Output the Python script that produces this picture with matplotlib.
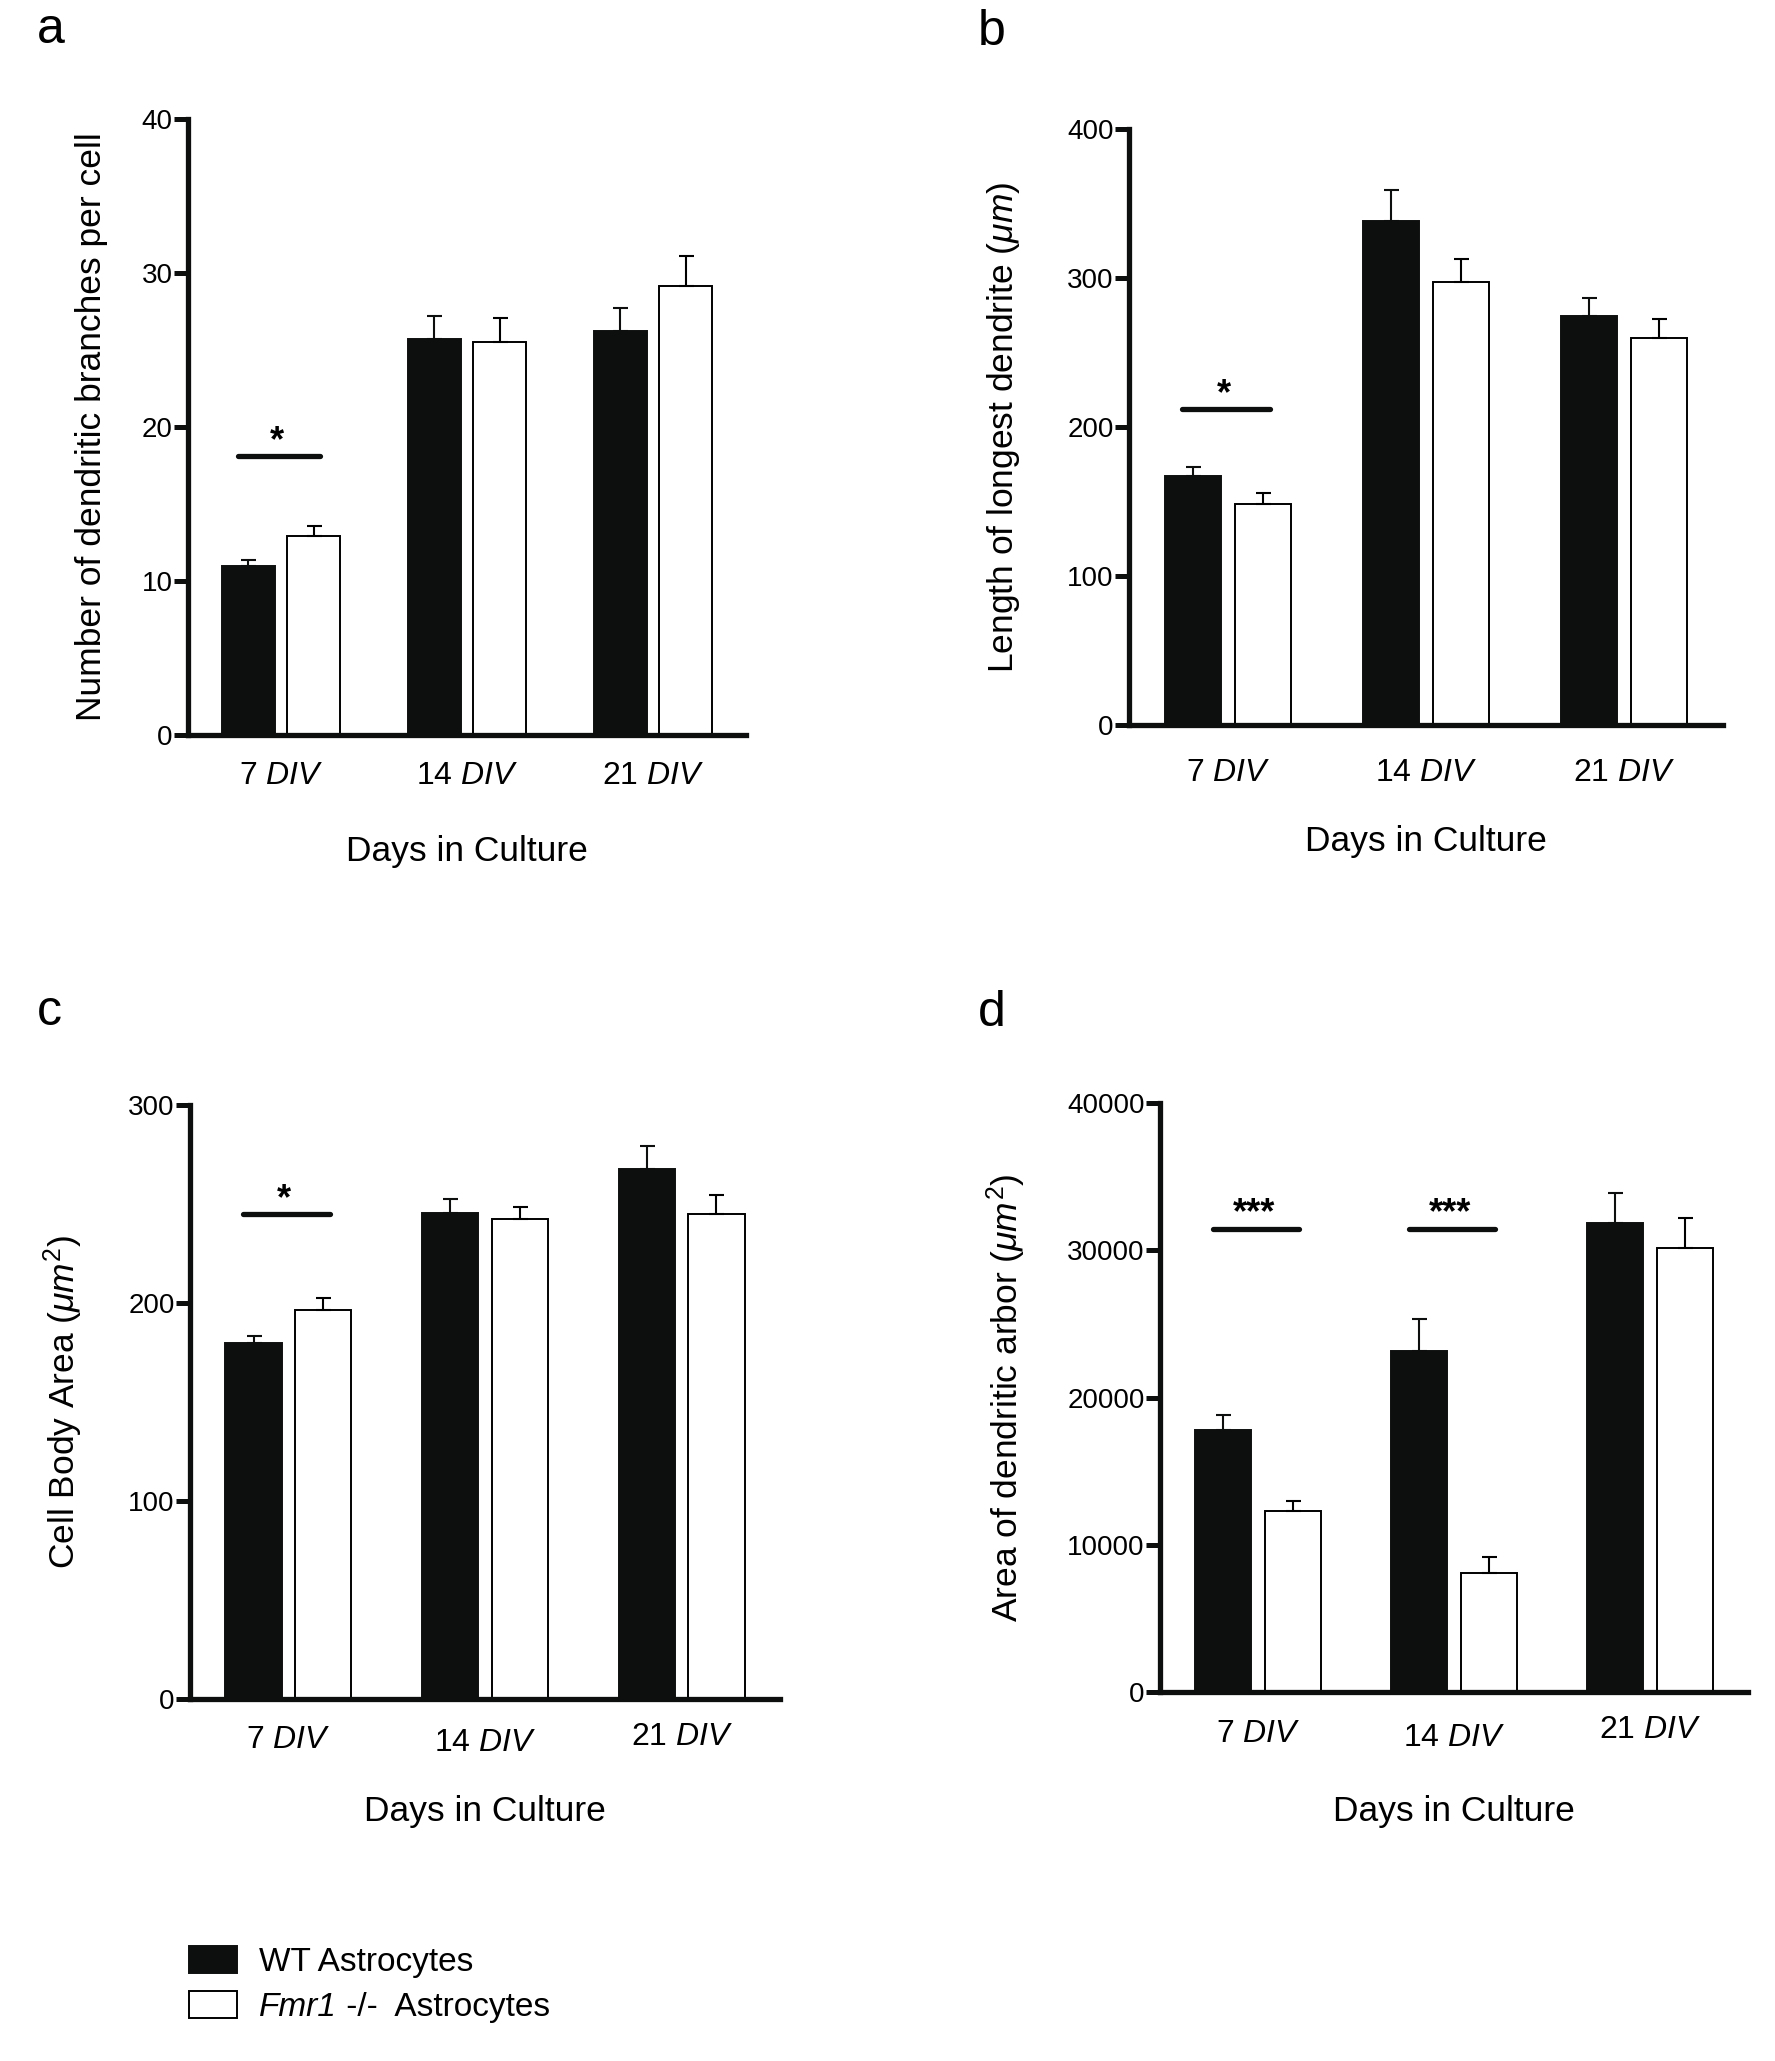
import numpy as np
import matplotlib.pyplot as plt
from matplotlib import transforms
from matplotlib.patches import Patch
from matplotlib.text import Annotation

plt.rcParams['font.family'] = ['Liberation Sans', 'DejaVu Sans']
plt.rcParams['mathtext.fontset'] = 'custom'
plt.rcParams['mathtext.rm'] = 'Liberation Sans'
plt.rcParams['mathtext.it'] = 'Liberation Sans:italic'
plt.rcParams['mathtext.bf'] = 'Liberation Sans:bold'

# data (mean, upper SEM)
days = ['7', '14', '21']
tick_labels = [r'7 $\mathit{DIV}$', r'14 $\mathit{DIV}$', r'21 $\mathit{DIV}$']

a_wt = [10.97, 25.7, 26.26]
a_wt_err = [0.4, 1.5, 1.45]
a_ko = [12.92, 25.55, 29.13]
a_ko_err = [0.65, 1.55, 2.0]

b_wt = [167, 338, 274.6]
b_wt_err = [6, 21, 12]
b_ko = [148.5, 297, 260]
b_ko_err = [7, 16, 12.7]

c_wt = [179.8, 245.7, 267.8]
c_wt_err = [3.7, 6.7, 11.3]
c_ko = [196.6, 242.2, 244.8]
c_ko_err = [6.1, 6.4, 9.6]

d_wt = [17770, 23170, 31860]
d_wt_err = [1017, 2153, 2034]
d_ko = [12290, 8063, 30176]
d_ko_err = [665, 1135, 1996]

a_sig = [(0, 18.1, '*')]
b_sig = [(0, 211.8, '*')]
c_sig = [(0, 244.8, '*')]
d_sig = [(0, 31468, '***'), (1, 31468, '***')]

BLACK = '#0d0f0e'
W, H = 1775, 2061
PT = 100 / 72.0  # px per point

fig = plt.figure(figsize=(W / 100, H / 100), dpi=100)


def axes_px(x0, y0, x1, y1):
    return fig.add_axes([x0 / W, 1 - y1 / H, (x1 - x0) / W, (y1 - y0) / H])


def draw(ax, wt, wt_err, ko, ko_err, yticks, ylabel, ylab_px, tick_px, xlab_px, sigs):
    x = np.arange(len(days))
    w, off = 0.285, 0.177
    ax.bar(x - off, wt, w, color=BLACK, edgecolor=BLACK, linewidth=1.4, zorder=2)
    ax.bar(x + off, ko, w, color='white', edgecolor='black', linewidth=1.4, zorder=2)
    ax.errorbar(x - off, wt, yerr=[np.zeros(3), wt_err], fmt='none', ecolor=BLACK,
                elinewidth=1.5, capsize=5.4, capthick=1.5, zorder=3)
    ax.errorbar(x + off, ko, yerr=[np.zeros(3), ko_err], fmt='none', ecolor='black',
                elinewidth=1.5, capsize=5.4, capthick=1.5, zorder=3)

    ax.set_xlim(-0.5, 2.5)
    ax.set_ylim(0, yticks[-1])
    for s in ['top', 'right']:
        ax.spines[s].set_visible(False)
    for s in ['left', 'bottom']:
        ax.spines[s].set_linewidth(3.8)
        ax.spines[s].set_color(BLACK)
    ax.set_xticks([])
    ax.set_yticks(yticks)
    ax.set_yticklabels([str(t) for t in yticks])
    ax.tick_params(axis='y', length=10, width=3.6, pad=1, labelsize=20, color=BLACK)

    trans = transforms.blended_transform_factory(ax.transData, ax.transAxes)
    for i, lab in enumerate(tick_labels):
        ax.annotate(lab, xy=(i, 0), xycoords=trans, xytext=(0, -tick_px[i] / PT),
                    textcoords='offset points', ha='center', va='center', fontsize=23)
    ax.annotate('Days in Culture', xy=(0.5, 0), xycoords='axes fraction',
                xytext=(0, -xlab_px / PT), textcoords='offset points',
                ha='center', va='center', fontsize=25.5)
    ax.annotate(ylabel, xy=(0, 0.5), xycoords='axes fraction',
                xytext=(-ylab_px / PT, 0), textcoords='offset points',
                ha='center', va='center', rotation=90, fontsize=25.5)

    for g, y, stars in sigs:
        ax.plot([g - 0.23, g + 0.21], [y, y], color=BLACK, lw=3.8,
                solid_capstyle='round', zorder=3)
        ax.annotate(stars, xy=(g - 0.02, y), xytext=(0, 4), textcoords='offset points',
                    ha='center', va='baseline', fontsize=26, fontweight='bold')


ax_a = axes_px(188, 119, 746, 735)
draw(ax_a, a_wt, a_wt_err, a_ko, a_ko_err, [0, 10, 20, 30, 40],
     'Number of dendritic branches per cell', 96, [41, 41, 41], 116, a_sig)

ax_b = axes_px(1129, 129, 1723, 725)
draw(ax_b, b_wt, b_wt_err, b_ko, b_ko_err, [0, 100, 200, 300, 400],
     r'Length of longest dendrite ($\mu m$)', 126, [48, 48, 48], 117, b_sig)

ax_c = axes_px(190, 1105, 780, 1699)
draw(ax_c, c_wt, c_wt_err, c_ko, c_ko_err, [0, 100, 200, 300],
     r'Cell Body Area ($\mu m^2$)', 127, [41, 44, 38], 113, c_sig)

ax_d = axes_px(1160, 1103, 1748, 1692)
draw(ax_d, d_wt, d_wt_err, d_ko, d_ko_err, [0, 10000, 20000, 30000, 40000],
     r'Area of dendritic arbor ($\mu m^2$)', 154, [42, 46, 38], 120, d_sig)

for lab, x, y in [('a', 37, 43), ('b', 978, 45), ('c', 37, 1025), ('d', 978, 1026)]:
    fig.text(x / W, 1 - y / H, lab, fontsize=36, ha='left', va='baseline')

# legend: "Fmr1" italic, rest upright
handles = [Patch(facecolor=BLACK, edgecolor=BLACK, linewidth=1.4),
           Patch(facecolor='white', edgecolor='black', linewidth=1.4)]
leg = fig.legend(handles, ['WT Astrocytes', 'Fmr1'],
                 loc='upper left', bbox_to_anchor=(189 / W, 1 - 1946 / H),
                 frameon=False, fontsize=24, handlelength=1.44, handleheight=0.86,
                 handletextpad=0.66, labelspacing=0.4, borderpad=0, borderaxespad=0)
ko_text = leg.get_texts()[1]
ko_text.set_fontstyle('italic')
rest = Annotation(' -/-  Astrocytes', xy=(1, 0), xycoords=ko_text,
                  ha='left', va='bottom', fontsize=24, annotation_clip=False)
rest.set_zorder(leg.get_zorder() + 1)
fig.add_artist(rest)

fig.savefig('out.png', dpi=100)
